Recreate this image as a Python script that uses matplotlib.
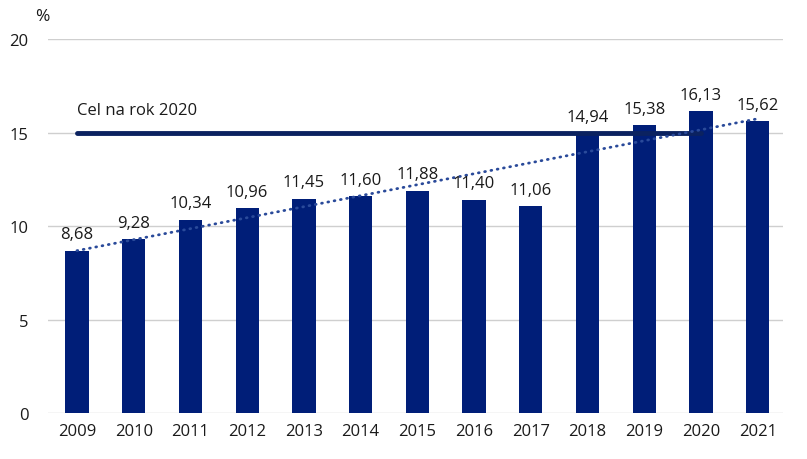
import numpy as np
import matplotlib.pyplot as plt

plt.rcParams['font.family'] = ['Open Sans', 'DejaVu Sans']

# data
years = ['2009', '2010', '2011', '2012', '2013', '2014', '2015',
         '2016', '2017', '2018', '2019', '2020', '2021']
share = [8.68, 9.28, 10.34, 10.96, 11.45, 11.60, 11.88,
         11.40, 11.06, 14.94, 15.38, 16.13, 15.62]
target = 15.0
target_label = 'Cel na rok 2020'

bar_col = '#001e78'
line_col = '#0b2260'
txt_col = '#1a1a1a'

x = np.arange(len(years))

fig = plt.figure(figsize=(8.07, 4.6), dpi=100)
ax = fig.add_axes([0.0595, 0.10, 0.9105, 0.813])

ax.bar(x, share, width=0.41, color=bar_col, zorder=2)

# target line 2009 -> 2020
ax.plot([0, years.index('2020')], [target, target], color=line_col, lw=3.5,
        solid_capstyle='round', zorder=3)
ax.text(0.0, target + 0.75, target_label, fontsize=12, color=txt_col,
        ha='left', va='bottom')

# linear trend
k, b = np.polyfit(x, share, 1)
ax.plot(x[[0, -1]], k * x[[0, -1]] + b, color='#2a4a9a', lw=2,
        linestyle=(0, (0.3, 2.0)), dash_capstyle='round', zorder=4)

for xi, v in zip(x, share):
    ax.text(xi, v + 0.45, f'{v:.2f}'.replace('.', ','), ha='center',
            va='bottom', fontsize=12, color=txt_col, zorder=5)

ax.set_xlim(-0.51, 12.44)
ax.set_ylim(0, 20)
ax.set_yticks([0, 5, 10, 15, 20])
ax.set_xticks(x)
ax.set_xticklabels(years)
ax.yaxis.grid(True, color='#cfcfcf', lw=1)
ax.set_axisbelow(True)
for s in ax.spines.values():
    s.set_visible(False)
ax.tick_params(length=0, labelsize=12, colors=txt_col)
ax.tick_params(axis='y', pad=14)
ax.tick_params(axis='x', pad=7)

fig.text(0.053, 0.963, '%', fontsize=12.5, color=txt_col, ha='center', va='center')

fig.savefig('out.png', dpi=100)
